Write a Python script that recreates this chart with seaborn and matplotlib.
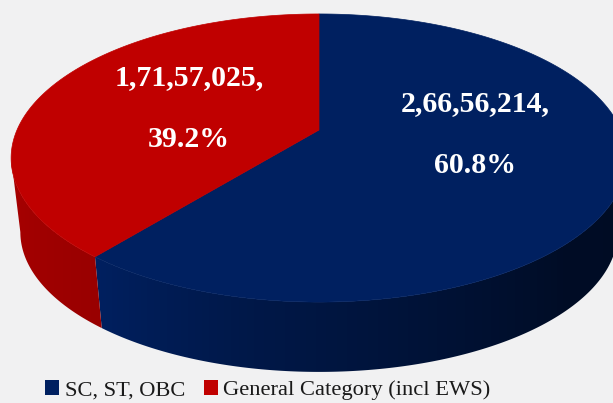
import numpy as np
import matplotlib
matplotlib.use("Agg")
import matplotlib.pyplot as plt
import seaborn as sns
from matplotlib.patches import Patch, Polygon

# ---- data ----
categories = ["SC, ST, OBC", "General Category (incl EWS)"]
values = [26656214, 17157025]
slice_colors = ["#002060", "#C00000"]

sns.set_theme(style="white")
plt.rcParams["font.family"] = ["Liberation Serif", "DejaVu Serif"]


def indian_format(n):
    s = str(n)
    last3, rest = s[-3:], s[:-3]
    groups = []
    while len(rest) > 2:
        groups.insert(0, rest[-2:])
        rest = rest[:-2]
    if rest:
        groups.insert(0, rest)
    return ",".join(groups + [last3])


W, H = 613, 403
fig = plt.figure(figsize=(W / 100, H / 100), dpi=100)
fig.patch.set_facecolor("#f1f1f2")
ax = fig.add_axes([0, 0, 1, 1])
ax.set_xlim(0, W)
ax.set_ylim(H, 0)
ax.axis("off")

# ---- 3D pie geometry (pixel space, perspective) ----
cx, cy = 319.0, 130.0
A, B, q = 302.0, 138.6, 0.1945
s_bot, depth = 0.97, 75.0


def proj(t, r=1.0):
    X, Z = r * np.cos(t), r * np.sin(t)
    d = 1 + q * Z
    return cx + A * X / d, cy - B * Z / d


def proj_bottom(t):
    x, y = proj(t)
    return cx + s_bot * (x - cx), cy + s_bot * (y - cy) + depth


vals = np.array(values, dtype=float)
fr = vals / vals.sum()
cum = np.concatenate([[0], np.cumsum(fr)])
start = 90.0
t0s = np.radians(start - cum[:-1] * 360)
t1s = np.radians(start - cum[1:] * 360)

# side shading (factor along angle) per slice
shade = [
    (np.radians([-129, -100, -45, 10]), [1.0, 0.75, 0.39, 0.37]),
    (np.radians([-168, -129]), [0.88, 0.80]),
]

# silhouette angles (left / right extreme of the rim)
vis_lo = -np.pi + np.arcsin(q)
vis_hi = -np.arcsin(q)

# map screen x -> angle on the front rim (monotonic part)
t_front = np.linspace(vis_lo, vis_hi, 800)
x_front, _ = proj(t_front)

xcols = np.arange(0, W + 1)
for i, col in enumerate(slice_colors):
    a, b = t1s[i], t0s[i]  # a < b
    lo, hi = max(a, vis_lo), min(b, vis_hi)
    if hi <= lo:
        continue
    ts = np.linspace(lo, hi, 400)
    xt, yt = proj(ts)
    xb, yb = proj_bottom(ts)
    poly = Polygon(np.c_[np.r_[xt, xb[::-1]], np.r_[yt, yb[::-1]]],
                   closed=True, fc="none", ec="none")
    ax.add_patch(poly)
    base = np.array(matplotlib.colors.to_rgb(col))
    kt, kv = shade[i]
    tcol = np.interp(xcols, x_front, t_front)
    fcol = np.interp(tcol, kt, kv)
    img = np.clip(base[None, None, :] * fcol[None, :, None], 0, 1)
    img = np.repeat(img, 2, axis=0)
    im = ax.imshow(img, extent=(0, W, H, 0), aspect="auto",
                   interpolation="bilinear", zorder=1)
    im.set_clip_path(poly)

# top faces
for i, col in enumerate(slice_colors):
    ts = np.linspace(t0s[i], t1s[i], 300)
    xs, ys = proj(ts)
    ax.fill(np.r_[cx, xs], np.r_[cy, ys], color=col, lw=0.5, ec=col, zorder=2)

# labels
label_offsets = [(9, -19), (8, 1)]
for i in range(len(values)):
    tm = (t0s[i] + t1s[i]) / 2
    lx, ly = proj(tm, 0.5)
    lx += label_offsets[i][0]
    ly += label_offsets[i][1]
    ax.text(lx, ly - 31, indian_format(values[i]) + ",", color="white",
            fontsize=21.5, fontweight="bold", ha="center", va="center",
            zorder=3)
    ax.text(lx, ly + 31, f"{fr[i] * 100:.1f}%", color="white",
            fontsize=21.5, fontweight="bold", ha="center", va="center",
            zorder=3)

handles = [Patch(facecolor=c, edgecolor="none") for c in slice_colors]
fig.legend(handles, categories, loc="center", bbox_to_anchor=(0.437, 0.032),
           ncol=2, frameon=False, fontsize=16.2, handlelength=0.6,
           handleheight=0.68, handletextpad=0.25, columnspacing=0.85,
           labelcolor="#1a1a1a", borderpad=0.1)

fig.savefig("out.png", dpi=100, facecolor=fig.get_facecolor())
